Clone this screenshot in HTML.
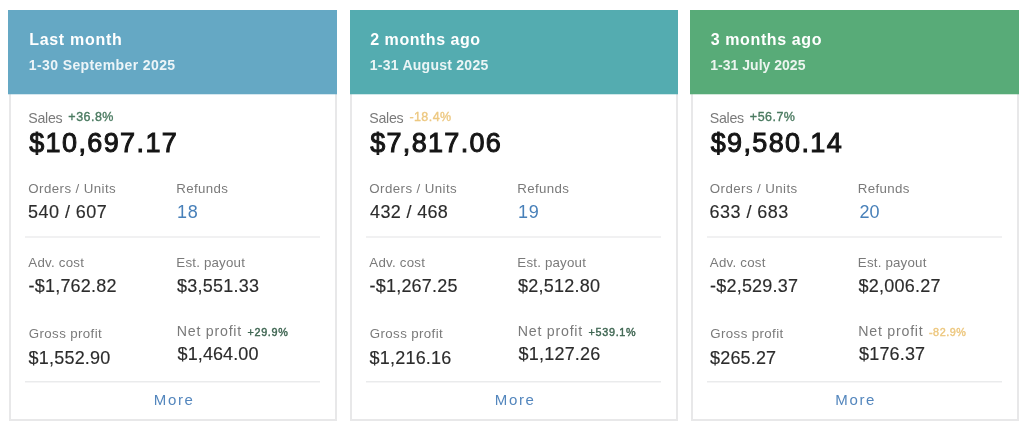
<!DOCTYPE html>
<html lang="en"><head><meta charset="utf-8"><title>Monthly summary</title>
<style>
html,body{margin:0;padding:0;background:#fff;}
body{width:1024px;height:426px;position:relative;overflow:hidden;font-family:"Liberation Sans",sans-serif;filter:blur(0.4px);}
.card{position:absolute;top:10px;height:411px;box-sizing:border-box;}
.hdr{position:absolute;left:0;top:0;right:0;height:84px;z-index:1;}
.hdr:after{content:"";position:absolute;left:0;right:0;top:84px;height:1px;background:inherit;opacity:.28;}
.body{position:absolute;left:0;right:0;top:84px;bottom:0;background:#fff;border:2px solid #e8e8e9;border-top:0;box-sizing:border-box;}
.hr{position:absolute;}
.hr1{top:226px;height:2px;background:#f1f1f2;}
.hr2{top:371px;height:1px;background:#eaebec;box-shadow:0 1px 0 #f5f5f6;}
.t{position:absolute;white-space:nowrap;line-height:1;margin:0;padding:0;z-index:2;}
.h1{font-size:16px;font-weight:700;color:#ffffff;}
.h2{font-size:14px;font-weight:700;color:rgba(255,255,255,0.88);}
.lbl{font-size:13.3px;font-weight:400;color:#7a7a7a;}
.lbl2{font-size:14.2px;font-weight:400;color:#7a7a7a;}
.pctL{font-size:12.5px;font-weight:400;color:#4a7a60;-webkit-text-stroke:0.35px currentColor;}
.pctS{font-size:10.8px;font-weight:400;color:#3f6652;-webkit-text-stroke:0.42px currentColor;}
.big{font-size:27px;font-weight:400;color:#151515;-webkit-text-stroke:1px currentColor;}
.val{font-size:18px;font-weight:400;color:#2c2c2c;-webkit-text-stroke:0.15px currentColor;}
.valb{font-size:18px;font-weight:400;color:#4880b9;}
.more{font-size:15px;font-weight:400;color:#5386bd;}
</style></head><body>
<section class="card" style="left:8px;width:329px">
<div class="hdr" style="background:#65a8c4"></div>
<div class="body" style="left:1px"></div>
<div class="hr hr1" style="left:17px;width:295px"></div>
<div class="hr hr2" style="left:17px;width:295px"></div>
<div id="t0" class="t h1" style="left:21.20px;top:22.46px;letter-spacing:0.700px;">Last month</div>
<div id="t1" class="t h2" style="left:20.80px;top:48.35px;letter-spacing:0.390px;">1-30 September 2025</div>
<div id="t2" class="t lbl2" style="left:20.29px;top:100.78px;letter-spacing:-0.270px;">Sales</div>
<div id="t3" class="t pctL" style="left:60.37px;top:101.42px;letter-spacing:0.468px;color:#4a7a60;">+36.8%</div>
<div id="t4" class="t big" style="left:21.15px;top:120.14px;letter-spacing:1.400px;">$10,697.17</div>
<div id="t5" class="t lbl" style="left:20.34px;top:171.54px;letter-spacing:0.415px;">Orders / Units</div>
<div id="t6" class="t val" style="left:20.10px;top:192.96px;letter-spacing:0.450px;">540 / 607</div>
<div id="t7" class="t lbl" style="left:168.34px;top:171.54px;letter-spacing:0.330px;">Refunds</div>
<div id="t8" class="t valb" style="left:169.10px;top:192.96px;letter-spacing:0.720px;">18</div>
<div id="t9" class="t lbl" style="left:20.33px;top:245.54px;letter-spacing:0.225px;">Adv. cost</div>
<div id="t10" class="t val" style="left:20.60px;top:266.96px;letter-spacing:0.200px;">-$1,762.82</div>
<div id="t11" class="t lbl" style="left:168.34px;top:245.64px;letter-spacing:0.198px;">Est. payout</div>
<div id="t12" class="t val" style="left:169.10px;top:266.96px;letter-spacing:0.225px;">$3,551.33</div>
<div id="t13" class="t lbl" style="left:20.83px;top:316.74px;letter-spacing:0.376px;">Gross profit</div>
<div id="t14" class="t val" style="left:20.60px;top:338.96px;letter-spacing:0.202px;">$1,552.90</div>
<div id="t15" class="t lbl2" style="left:168.79px;top:313.98px;letter-spacing:0.760px;">Net profit</div>
<div id="t16" class="t pctS" style="left:239.46px;top:316.86px;letter-spacing:0.684px;color:#3f6652;">+29.9%</div>
<div id="t17" class="t val" style="left:169.60px;top:334.76px;letter-spacing:0.090px;">$1,464.00</div>
<div id="t18" class="t more" style="left:145.75px;top:381.50px;letter-spacing:1.680px;">More</div>
</section>
<section class="card" style="left:350px;width:328px">
<div class="hdr" style="background:#54acb0"></div>
<div class="body" style="left:0px"></div>
<div class="hr hr1" style="left:16px;width:295px"></div>
<div class="hr hr2" style="left:16px;width:295px"></div>
<div id="t19" class="t h1" style="left:20.20px;top:22.46px;letter-spacing:0.540px;">2 months ago</div>
<div id="t20" class="t h2" style="left:19.80px;top:48.35px;letter-spacing:0.252px;">1-31 August 2025</div>
<div id="t21" class="t lbl2" style="left:19.29px;top:100.78px;letter-spacing:-0.270px;">Sales</div>
<div id="t22" class="t pctL" style="left:59.38px;top:101.42px;letter-spacing:0.432px;color:#edc880;">-18.4%</div>
<div id="t23" class="t big" style="left:20.15px;top:120.14px;letter-spacing:1.327px;">$7,817.06</div>
<div id="t24" class="t lbl" style="left:19.33px;top:171.54px;letter-spacing:0.415px;">Orders / Units</div>
<div id="t25" class="t val" style="left:20.10px;top:192.96px;letter-spacing:0.338px;">432 / 468</div>
<div id="t26" class="t lbl" style="left:167.33px;top:171.54px;letter-spacing:0.330px;">Refunds</div>
<div id="t27" class="t valb" style="left:168.10px;top:192.96px;letter-spacing:0.720px;">19</div>
<div id="t28" class="t lbl" style="left:19.33px;top:245.54px;letter-spacing:0.225px;">Adv. cost</div>
<div id="t29" class="t val" style="left:19.60px;top:266.96px;letter-spacing:0.200px;">-$1,267.25</div>
<div id="t30" class="t lbl" style="left:167.33px;top:245.64px;letter-spacing:0.198px;">Est. payout</div>
<div id="t31" class="t val" style="left:168.10px;top:266.96px;letter-spacing:0.225px;">$2,512.80</div>
<div id="t32" class="t lbl" style="left:19.83px;top:316.74px;letter-spacing:0.376px;">Gross profit</div>
<div id="t33" class="t val" style="left:19.60px;top:338.96px;letter-spacing:0.203px;">$1,216.16</div>
<div id="t34" class="t lbl2" style="left:167.79px;top:313.98px;letter-spacing:0.760px;">Net profit</div>
<div id="t35" class="t pctS" style="left:238.46px;top:316.86px;letter-spacing:0.720px;color:#3f6652;">+539.1%</div>
<div id="t36" class="t val" style="left:168.60px;top:334.76px;letter-spacing:0.202px;">$1,127.26</div>
<div id="t37" class="t more" style="left:144.75px;top:381.50px;letter-spacing:1.680px;">More</div>
</section>
<section class="card" style="left:690px;width:329px">
<div class="hdr" style="background:#58ab78"></div>
<div class="body" style="left:1px"></div>
<div class="hr hr1" style="left:17px;width:295px"></div>
<div class="hr hr2" style="left:17px;width:295px"></div>
<div id="t38" class="t h1" style="left:20.70px;top:22.46px;letter-spacing:0.622px;">3 months ago</div>
<div id="t39" class="t h2" style="left:20.30px;top:48.35px;letter-spacing:0.014px;">1-31 July 2025</div>
<div id="t40" class="t lbl2" style="left:19.79px;top:100.78px;letter-spacing:-0.270px;">Sales</div>
<div id="t41" class="t pctL" style="left:59.87px;top:101.42px;letter-spacing:0.468px;color:#4a7a60;">+56.7%</div>
<div id="t42" class="t big" style="left:20.65px;top:120.14px;letter-spacing:1.373px;">$9,580.14</div>
<div id="t43" class="t lbl" style="left:19.84px;top:171.54px;letter-spacing:0.415px;">Orders / Units</div>
<div id="t44" class="t val" style="left:19.60px;top:192.96px;letter-spacing:0.450px;">633 / 683</div>
<div id="t45" class="t lbl" style="left:167.83px;top:171.54px;letter-spacing:0.330px;">Refunds</div>
<div id="t46" class="t valb" style="left:169.60px;top:192.96px;letter-spacing:-0.180px;">20</div>
<div id="t47" class="t lbl" style="left:19.83px;top:245.54px;letter-spacing:0.225px;">Adv. cost</div>
<div id="t48" class="t val" style="left:20.10px;top:266.96px;letter-spacing:0.200px;">-$2,529.37</div>
<div id="t49" class="t lbl" style="left:167.83px;top:245.64px;letter-spacing:0.198px;">Est. payout</div>
<div id="t50" class="t val" style="left:168.60px;top:266.96px;letter-spacing:0.225px;">$2,006.27</div>
<div id="t51" class="t lbl" style="left:20.34px;top:316.74px;letter-spacing:0.376px;">Gross profit</div>
<div id="t52" class="t val" style="left:20.10px;top:338.96px;letter-spacing:0.150px;">$265.27</div>
<div id="t53" class="t lbl2" style="left:168.29px;top:313.98px;letter-spacing:0.760px;">Net profit</div>
<div id="t54" class="t pctS" style="left:238.96px;top:316.86px;letter-spacing:0.540px;color:#edc880;">-82.9%</div>
<div id="t55" class="t val" style="left:169.10px;top:334.76px;letter-spacing:0.150px;">$176.37</div>
<div id="t56" class="t more" style="left:145.25px;top:381.50px;letter-spacing:1.680px;">More</div>
</section>
</body></html>
